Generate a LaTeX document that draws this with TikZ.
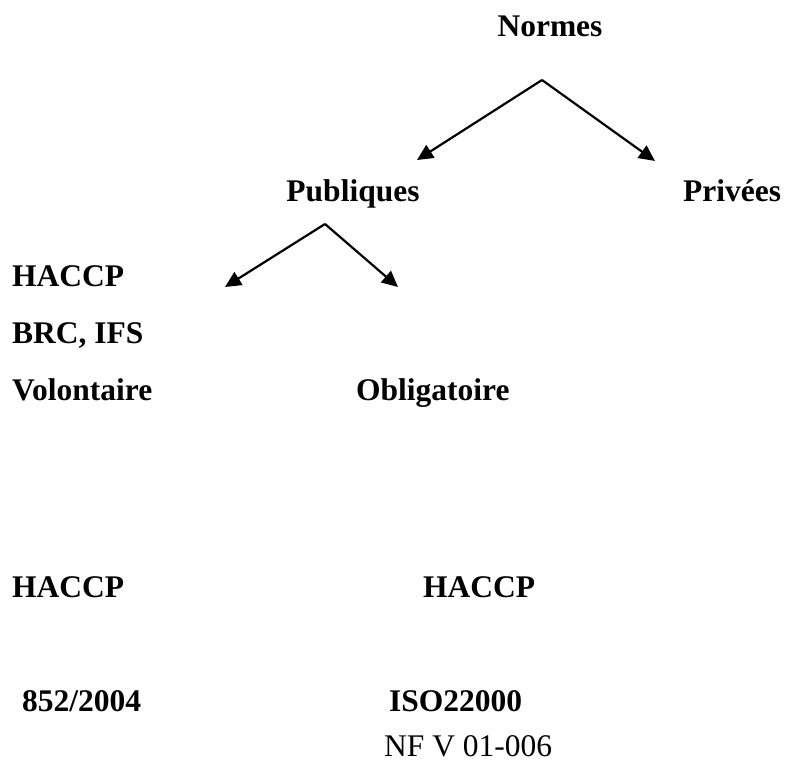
\documentclass[tikz,border=0pt]{standalone}
\usepackage{fontspec}
\setmainfont{Liberation Serif}
\usetikzlibrary{arrows.meta}
\begin{document}
\begin{tikzpicture}[x=1pt,y=1pt,
  lbl/.style={inner sep=0pt,font=\fontsize{31.5}{38}\selectfont\bfseries},
  lblr/.style={inner sep=0pt,font=\fontsize{31.5}{38}\selectfont},
  arr/.style={line width=2.2pt,-{Triangle[length=16pt,width=15pt]}}]
\useasboundingbox[fill=white] (0,0) rectangle (786,-762);
% texts
\node[lbl,anchor=base] (normes) at (550,-37) {Normes};
\node[lbl,anchor=base] (publiques) at (353,-201) {Publiques};
\node[lbl,anchor=base] (privees) at (732,-201) {Privées};
\node[lbl,anchor=base west] (haccp1) at (12,-286) {HACCP};
\node[lbl,anchor=base west] (brc) at (12,-343) {BRC, IFS};
\node[lbl,anchor=base west] (volontaire) at (12,-400) {Volontaire};
\node[lbl,anchor=base west] (obligatoire) at (356,-400) {Obligatoire};
\node[lbl,anchor=base west] (haccp2) at (12,-597) {HACCP};
\node[lbl,anchor=base west] (haccp3) at (423,-597) {HACCP};
\node[lbl,anchor=base west] (reg) at (22,-711) {852/2004};
\node[lbl,anchor=base west] (iso) at (389,-711) {ISO22000};
\node[lblr,anchor=base west] (nf) at (384,-756) {NF V 01-006};
% connector points
\coordinate (nA) at (542,-80);
\coordinate (nL) at (417,-160);
\coordinate (nR) at (655,-161);
\coordinate (pA) at (325,-224);
\coordinate (pL) at (225,-287);
\coordinate (pR) at (398,-287);
\draw[arr] (nA) -- (nL);
\draw[arr] (nA) -- (nR);
\draw[arr] (pA) -- (pL);
\draw[arr] (pA) -- (pR);
\end{tikzpicture}
\end{document}
